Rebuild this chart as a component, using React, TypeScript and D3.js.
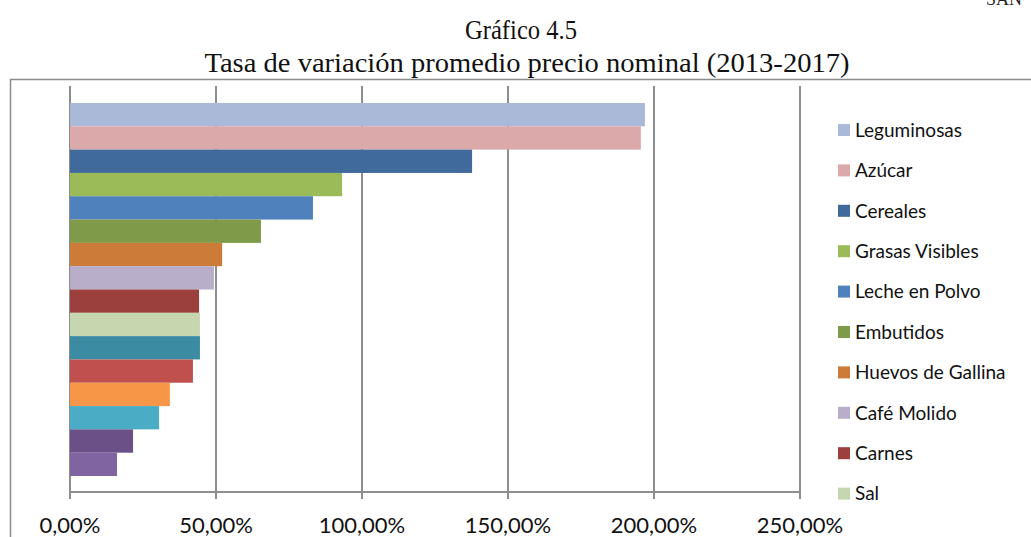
import React from 'react';
import * as d3 from 'd3';

// series in drawing order (top to bottom); the legend box only shows the first ten
const names = [
  'Leguminosas', 'Azúcar', 'Cereales', 'Grasas Visibles', 'Leche en Polvo',
  'Embutidos', 'Huevos de Gallina', 'Café Molido', 'Carnes', 'Sal',
  'Serie 11', 'Serie 12', 'Serie 13', 'Serie 14', 'Serie 15', 'Serie 16',
];
const values = [
  196.9, 195.5, 137.7, 93.2, 83.2,
  65.4, 52.1, 49.3, 44.2, 44.5,
  44.5, 42.1, 34.2, 30.5, 21.6, 16.1,
];
const colors = [
  '#aab9d7', '#dba9a9', '#3f6a9b', '#9bbb59', '#4f81bd',
  '#7f9a48', '#cd7b38', '#b9aeca', '#9c403e', '#c6d6ae',
  '#3b8ba3', '#c0504d', '#f79646', '#4bacc6', '#6a5087', '#8064a2',
];
const xTicks = [0, 50, 100, 150, 200, 250];
const visibleLegend = 10;

const W = 1031;
const H = 537;
const sans = 'Lato, "Open Sans", sans-serif';
const serif = '"Liberation Serif", "DejaVu Serif", serif';

export default function App() {
  const x = d3.scaleLinear([0, 250], [70, 800]);
  const y = d3.scaleBand(names, [103, 476]);
  const gridTop = 86;
  const axisY = 492;
  const fmt = (v: number) => d3.format('.2f')(v).replace('.', ',') + '%';

  return (
    <div style={{ position: 'absolute', left: 0, top: 0 }}>
      <svg width={W} height={H} style={{ display: 'block', background: '#fff' }}>
        <text x={986} y={5} fontFamily={serif} fontSize={18} fill="#222">SAN</text>
        <text x={521} y={39} textAnchor="middle" fontFamily={serif} fontSize={27} fill="#111"
          textLength={112} lengthAdjust="spacingAndGlyphs">
          Gráfico 4.5
        </text>
        <text x={527} y={72} textAnchor="middle" fontFamily={serif} fontSize={27} fill="#111"
          textLength={645} lengthAdjust="spacingAndGlyphs">
          Tasa de variación promedio precio nominal (2013-2017)
        </text>

        <rect x={10.5} y={79.5} width={1100} height={600} fill="none" stroke="#8c8c8c" strokeWidth={1.5} />

        <g stroke="#8e8e8e" strokeWidth={2}>
          {xTicks.map(t => (
            <line key={t} x1={x(t)} x2={x(t)} y1={gridTop} y2={axisY + 7} />
          ))}
          <line x1={x(0)} x2={x(250)} y1={axisY} y2={axisY} />
        </g>

        {names.map((n, i) => (
          <rect key={n} x={x(0)} y={y(n)} width={x(values[i]) - x(0)} height={y.bandwidth()} fill={colors[i]} />
        ))}

        {xTicks.map(t => (
          <text key={t} x={x(t)} y={533} textAnchor="middle" fontFamily={sans} fontSize={22} fill="#111">
            {fmt(t)}
          </text>
        ))}

        {names.slice(0, visibleLegend).map((n, i) => {
          const cy = 130 + i * 40.4;
          return (
            <g key={n}>
              <rect x={838} y={cy - 6} width={12} height={12} fill={colors[i]} />
              <text x={855} y={cy} dy="0.36em" fontFamily={sans} fontSize={19} fill="#111">{n}</text>
            </g>
          );
        })}
      </svg>
    </div>
  );
}
